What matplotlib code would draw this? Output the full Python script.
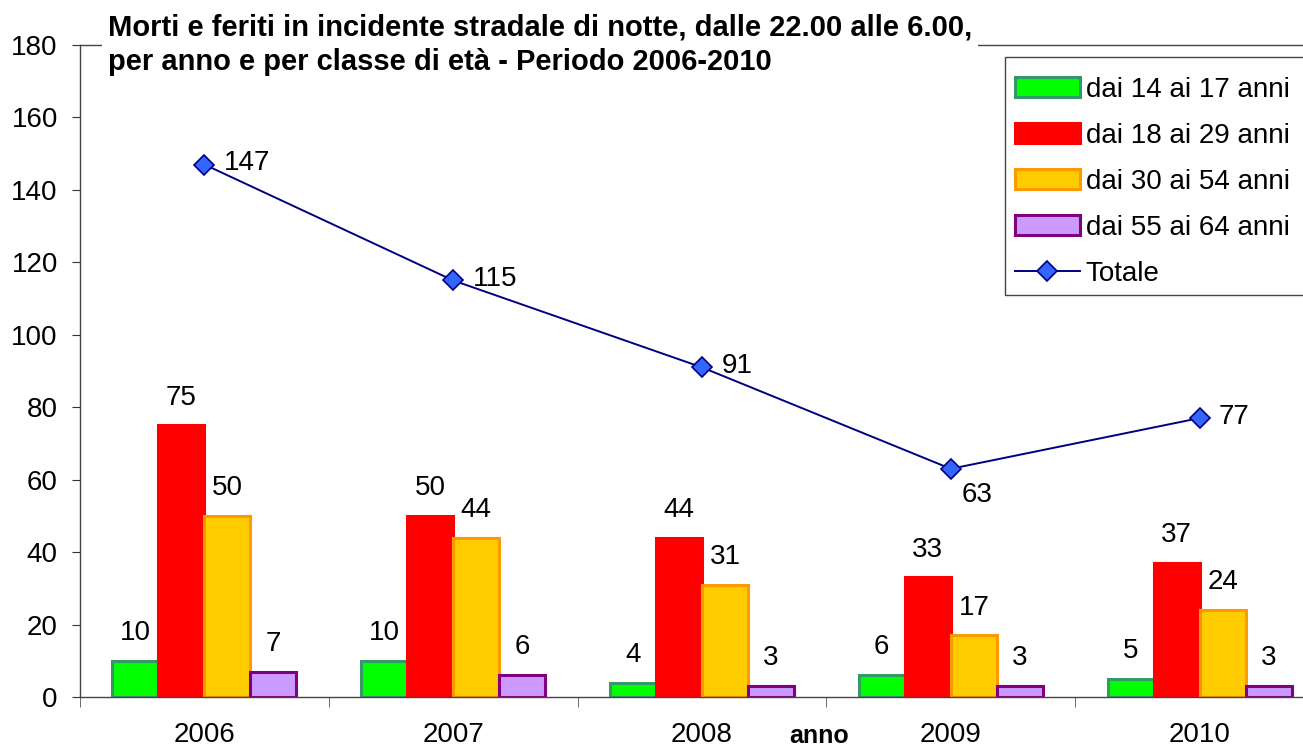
import matplotlib as mpl
mpl.use('Agg')
import matplotlib.pyplot as plt
import numpy as np
from matplotlib.patches import Patch, Rectangle
from matplotlib.lines import Line2D

anni = ['2006', '2007', '2008', '2009', '2010']
eta_14_17 = [10, 10, 4, 6, 5]
eta_18_29 = [75, 50, 44, 33, 37]
eta_30_54 = [50, 44, 31, 17, 24]
eta_55_64 = [7, 6, 3, 3, 3]
totale = [147, 115, 91, 63, 77]

serie = [
    ('dai 14 ai 17 anni', eta_14_17, '#00FF00', '#339966'),
    ('dai 18 ai 29 anni', eta_18_29, '#FF0000', '#FF0000'),
    ('dai 30 ai 54 anni', eta_30_54, '#FFCC00', '#FF9900'),
    ('dai 55 ai 64 anni', eta_55_64, '#CC99FF', '#800080'),
]

plt.rcParams['font.family'] = ['Liberation Sans', 'DejaVu Sans']

fig = plt.figure(figsize=(13.03, 7.48), dpi=100)
ax = fig.add_axes([80 / 1303, 51 / 748, 1244 / 1303, 652 / 748])

x = np.arange(len(anni))
w = 0.185
fs = 20

for i, (nome, vals, fc, ec) in enumerate(serie):
    pos = x + (i - 1.5) * w
    ax.bar(pos, vals, width=w, color=fc, edgecolor=ec, linewidth=2.2, zorder=2)
    for px, v in zip(pos, vals):
        ax.annotate(str(v), (px, v), xytext=(0, 20), textcoords='offset points',
                    ha='center', va='center', fontsize=fs)

ax.plot(x, totale, color='#000080', linewidth=1.4, marker='D', markersize=10.5,
        markerfacecolor='#3366FF', markeredgecolor='#000080', markeredgewidth=1.2, zorder=3)
for i, v in enumerate(totale):
    if i == 3:
        off = (8, -19)
    else:
        off = (14, 1)
    ax.annotate(str(v), (x[i], v), xytext=off, textcoords='offset points',
                ha='left', va='center', fontsize=fs)

ax.set_xlim(-0.5, 4.5)
ax.set_ylim(0, 180)
ax.set_yticks(np.arange(0, 181, 20))
ax.set_xticks(x)
ax.set_xticklabels(anni)
ax.set_xticks(np.arange(-0.5, 5, 1), minor=True)
ax.tick_params(axis='x', which='major', length=0, labelsize=fs, pad=18)
ax.tick_params(axis='x', which='minor', length=7, direction='out', color='#555555')
ax.tick_params(axis='y', length=6, direction='out', labelsize=fs, pad=10, color='#333333')

for s in ['left', 'bottom', 'top']:
    ax.spines[s].set_color('#444444')
    ax.spines[s].set_linewidth(1.0)
ax.spines['right'].set_visible(False)

ax.text(0.594, -0.06, 'anno', transform=ax.transAxes, ha='center', va='center',
        fontsize=18, fontweight='bold')

fig.text(108 / 1303, 1 - 13 / 748,
         'Morti e feriti in incidente stradale di notte, dalle 22.00 alle 6.00,\n'
         'per anno e per classe di età - Periodo 2006-2010',
         ha='left', va='top', fontsize=21, fontweight='bold', linespacing=1.32,
         bbox=dict(facecolor='white', edgecolor='none', pad=4), zorder=5)

# riquadro della legenda
fig.add_artist(Rectangle((1005 / 1303, 1 - 295 / 748), 320 / 1303, 238 / 748,
                         transform=fig.transFigure, facecolor='white',
                         edgecolor='#444444', linewidth=1.0, zorder=4))

handles = [Patch(facecolor=fc, edgecolor=ec, linewidth=2.2, label=nome)
           for nome, vals, fc, ec in serie]
handles.append(Line2D([], [], color='#000080', linewidth=1.4, marker='D', markersize=10.5,
                      markerfacecolor='#3366FF', markeredgecolor='#000080', markeredgewidth=1.2,
                      label='Totale'))
leg = fig.legend(handles=handles, loc='upper left', bbox_to_anchor=(1005 / 1303, 1 - 67 / 748),
                 fontsize=fs, frameon=False,
                 handlelength=2.35, handleheight=0.72, handletextpad=0.2,
                 labelspacing=0.72, borderpad=0.35, borderaxespad=0)
leg.set_zorder(5)

fig.savefig('out.png', dpi=100)
